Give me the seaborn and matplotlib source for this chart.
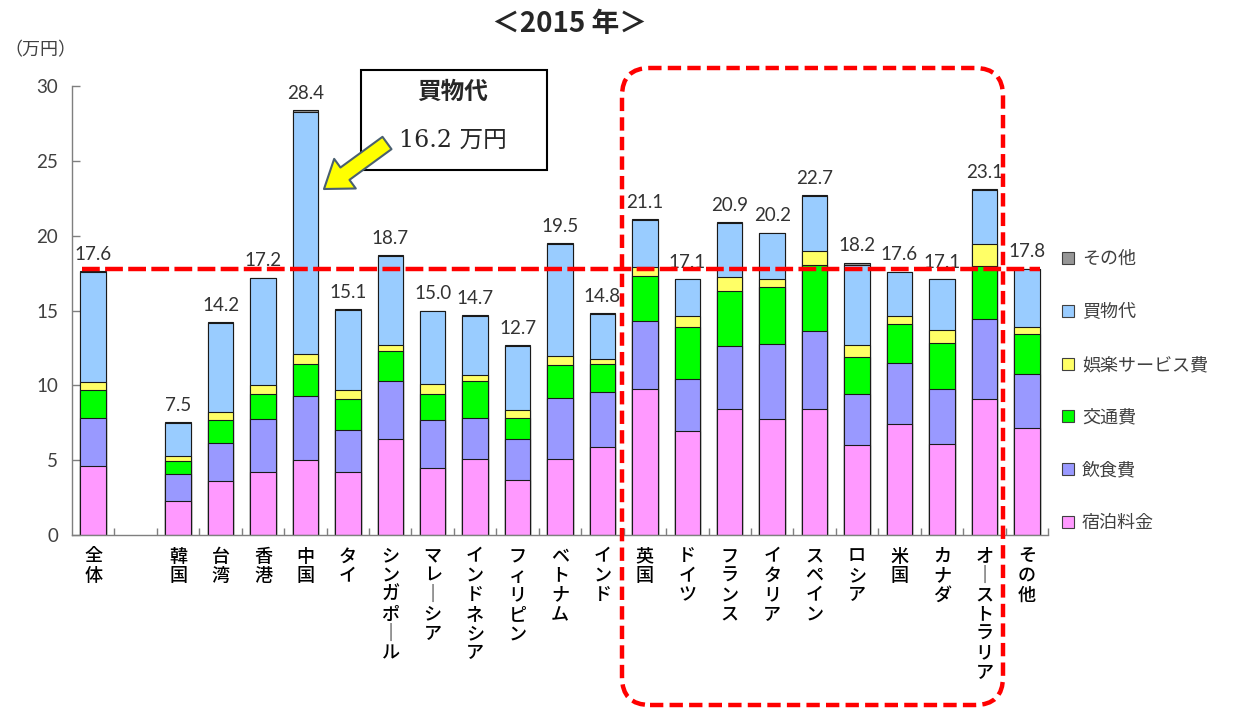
import numpy as np
import pandas as pd
import matplotlib
matplotlib.use("Agg")
import matplotlib.pyplot as plt
import seaborn as sns
from matplotlib.patches import Patch, FancyBboxPatch, FancyArrowPatch, Rectangle

# ---------------- data ----------------
countries = ["全体", "韓国", "台湾", "香港", "中国", "タイ", "シンガポール", "マレーシア",
             "インドネシア", "フィリピン", "ベトナム", "インド", "英国", "ドイツ", "フランス",
             "イタリア", "スペイン", "ロシア", "米国", "カナダ", "オーストラリア", "その他"]
order = ["全体", " "] + countries[1:]

categories = ["宿泊料金", "飲食費", "交通費", "娯楽サービス費", "買物代", "その他"]

lodging = [4.60, 2.27, 3.64, 4.22, 5.04, 4.22, 6.40, 4.51, 5.11, 3.67, 5.11, 5.91,
           9.78, 6.93, 8.44, 7.78, 8.44, 5.98, 7.44, 6.11, 9.09, 7.16]
food = [3.20, 1.80, 2.54, 3.56, 4.23, 2.82, 3.89, 3.20, 2.73, 2.73, 4.07, 3.62,
        4.55, 3.49, 4.16, 5.00, 5.18, 3.42, 4.07, 3.65, 5.33, 3.62]
transport = [1.90, 0.89, 1.53, 1.66, 2.17, 2.07, 2.00, 1.73, 2.43, 1.44, 2.18, 1.91,
             3.00, 3.51, 3.73, 3.78, 4.45, 2.49, 2.56, 3.06, 3.56, 2.62]
entertainment = [0.50, 0.31, 0.51, 0.56, 0.67, 0.60, 0.38, 0.67, 0.44, 0.54, 0.57, 0.29,
                 0.60, 0.71, 0.94, 0.55, 0.89, 0.82, 0.57, 0.85, 1.46, 0.53]
shopping = [7.40, 2.23, 5.94, 7.15, 16.16, 5.34, 5.98, 4.85, 3.95, 4.28, 7.53, 3.04,
            3.15, 2.44, 3.60, 3.07, 3.72, 5.30, 2.94, 3.41, 3.64, 3.85]
other = [0.05, 0.03, 0.04, 0.05, 0.13, 0.05, 0.05, 0.04, 0.04, 0.04, 0.04, 0.03,
         0.02, 0.02, 0.03, 0.02, 0.02, 0.19, 0.02, 0.02, 0.02, 0.02]
total_labels = ["17.6", "7.5", "14.2", "17.2", "28.4", "15.1", "18.7", "15.0", "14.7",
                "12.7", "19.5", "14.8", "21.1", "17.1", "20.9", "20.2", "22.7", "18.2",
                "17.6", "17.1", "23.1", "17.8"]
average_line = 17.8

colors = ["#FF99FF", "#9999FF", "#00FF00", "#FFFF66", "#99CCFF", "#969696"]

df = pd.DataFrame({"country": countries, "宿泊料金": lodging, "飲食費": food,
                   "交通費": transport, "娯楽サービス費": entertainment,
                   "買物代": shopping, "その他": other})

# ---------------- figure ----------------
W, H = 1256, 708
sns.set_theme(style="white")
plt.rcParams["font.family"] = ["Lato", "Noto Sans CJK JP", "DejaVu Sans"]

fig = plt.figure(figsize=(W / 100, H / 100), dpi=100)


def fx(px):
    return px / W


def fy(py):
    return 1 - py / H


ax = fig.add_axes([fx(72), fy(535), (1048 - 72) / W, (535 - 86) / H])

cum = df[categories].cumsum(axis=1)
for k in range(len(categories) - 1, -1, -1):
    sns.barplot(x=df["country"], y=cum[categories[k]], order=order, color=colors[k],
                width=0.6, edgecolor="#1a1a1a", linewidth=0.8, saturation=1,
                ax=ax, errorbar=None)

# value labels
totals = cum[categories[-1]].values
for i, c in enumerate(countries):
    pos = order.index(c)
    ax.annotate(total_labels[i], (pos, totals[i]), xytext=(0, 6),
                textcoords="offset points", ha="center", va="bottom",
                fontsize=13.5, color="#333333")

ax.set_xlim(-0.5, len(order) - 0.5)
ax.set_ylim(0, 30)
ax.set_yticks(np.arange(0, 31, 5))
ax.set_ylabel("")
ax.set_xlabel("")


def vert(s):
    return "\n".join("｜" if ch == "ー" else ch for ch in s)


ax.set_xticks(range(len(order)))
ax.set_xticklabels([vert(s.strip()) for s in order], fontsize=13, color="black",
                   va="top", linespacing=1.1, family=["Noto Sans CJK JP"],
                   fontweight="medium")
ax.set_xticks(np.arange(0.5, len(order), 1), minor=True)
ax.tick_params(axis="x", which="major", length=0, pad=9)
ax.tick_params(axis="x", which="minor", direction="in", length=5, width=1,
               color="#7f7f7f", bottom=True)
ax.tick_params(axis="y", direction="in", length=6, width=1, color="#7f7f7f",
               labelsize=13.5, labelcolor="#404040", pad=10, left=True)
for side in ["top", "right"]:
    ax.spines[side].set_visible(False)
for side in ["left", "bottom"]:
    ax.spines[side].set_color("#7f7f7f")
    ax.spines[side].set_linewidth(1)

# average dashed line
ax.plot([-0.27, 22.3], [average_line, average_line], color="#FF0000", lw=3.2,
        dashes=(4, 1.2), zorder=6, solid_capstyle="butt")

# legend
handles = [Patch(facecolor=colors[k], edgecolor="#404040", linewidth=0.8)
           for k in range(len(categories) - 1, -1, -1)]
labels = [categories[k] for k in range(len(categories) - 1, -1, -1)]
leg = ax.legend(handles, labels, loc="upper left", bbox_to_anchor=(fx(1055), fy(243)),
                bbox_transform=fig.transFigure, frameon=False, fontsize=13,
                handlelength=0.65, handleheight=0.65, labelspacing=1.93,
                handletextpad=0.45, borderaxespad=0)
for t in leg.get_texts():
    t.set_color("#404040")
    t.set_family(["Noto Sans CJK JP"])

# title and unit
fig.text(fx(570), fy(24), "＜2015 年＞", ha="center", va="center", fontsize=20,
         fontweight="bold", family=["Noto Sans CJK JP"])
fig.text(fx(40), fy(50), "（万円）", ha="center", va="center", fontsize=13,
         color="#404040", family=["Noto Sans CJK JP"])

# callout box
fig.add_artist(Rectangle((fx(361), fy(170)), (547 - 361) / W, (170 - 70) / H,
                         transform=fig.transFigure, facecolor="white",
                         edgecolor="black", lw=1.5, zorder=5))
fig.text(fx(453), fy(92), "買物代", ha="center", va="center", fontsize=17,
         fontweight="bold", family=["Noto Sans CJK JP"], zorder=6)
fig.text(fx(453), fy(140), "16.2 万円", ha="center", va="center", fontsize=17,
         family=["DejaVu Serif", "Noto Sans CJK JP"], zorder=6)
arrow = FancyArrowPatch(posA=(fx(387), fy(143)), posB=(fx(324), fy(189)),
                        transform=fig.transFigure,
                        arrowstyle="simple,head_length=0.85,head_width=1.2,tail_width=0.5",
                        mutation_scale=22, facecolor="#FFFF00", edgecolor="#4a6070",
                        lw=1.5, shrinkA=0, shrinkB=0, zorder=7)
fig.add_artist(arrow)

# red dashed rounded frame
frame = FancyBboxPatch((6.22, 0.03), 3.81, 6.37,
                       boxstyle="round,pad=0,rounding_size=0.28",
                       transform=fig.dpi_scale_trans, facecolor="none",
                       edgecolor="#FF0000", lw=3.2, zorder=8)
frame.set_linestyle((0, (3, 1.4)))
fig.add_artist(frame)

fig.savefig("out.png", dpi=100)
